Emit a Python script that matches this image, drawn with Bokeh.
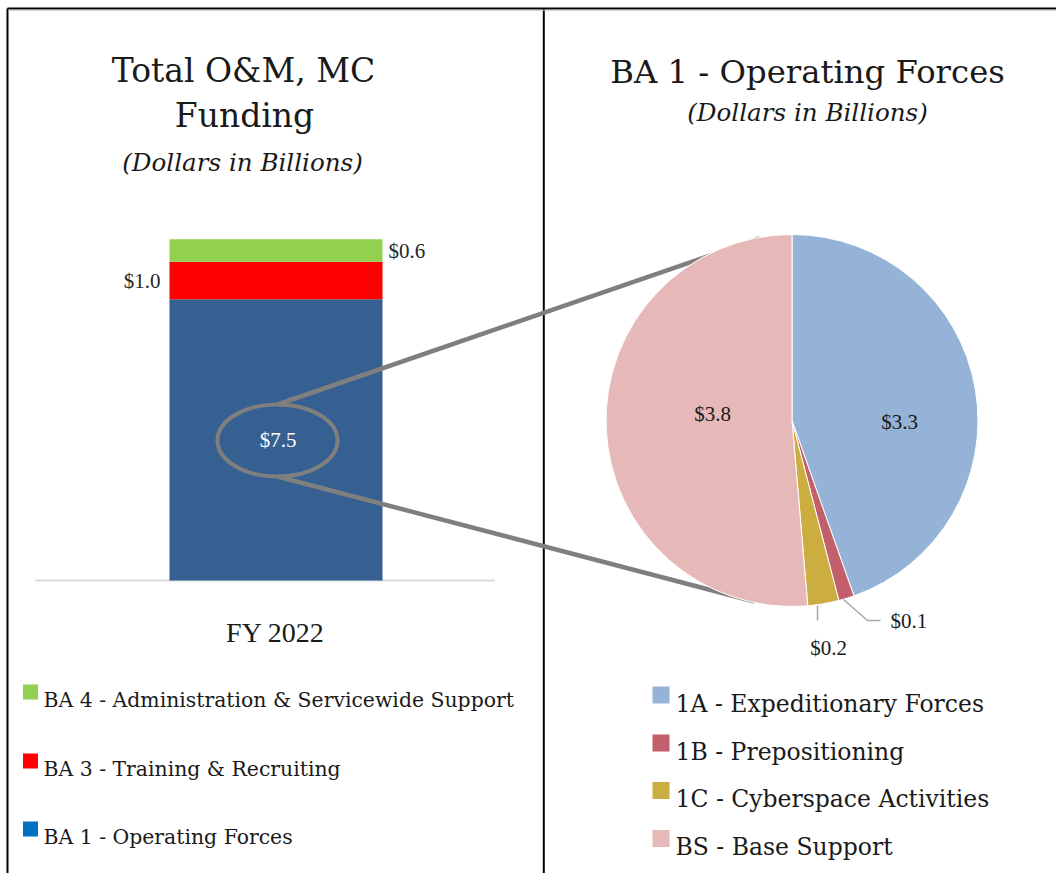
import numpy as np
from bokeh.plotting import figure
from bokeh.models import Range1d, ColumnDataSource
from bokeh.core.properties import value
from bokeh.embed import file_html
from bokeh.resources import INLINE

# ---------------- data ----------------
bar_category = "FY 2022"
bar_series = ["BA 1 - Operating Forces", "BA 3 - Training & Recruiting",
              "BA 4 - Administration & Servicewide Support"]
bar_values = [7.5, 1.0, 0.6]
bar_labels = ["$7.5", "$1.0", "$0.6"]
bar_colors = ["#376092", "#FF0000", "#92D050"]
legend_left_labels = ["BA 4 - Administration & Servicewide Support",
                      "BA 3 - Training & Recruiting",
                      "BA 1 - Operating Forces"]
legend_left_colors = ["#92D050", "#FF0000", "#0070C0"]

pie_categories = ["1A - Expeditionary Forces", "1B -  Prepositioning",
                  "1C - Cyberspace Activities", "BS - Base Support"]
pie_values = [3.3, 0.1, 0.2, 3.8]
pie_labels = ["$3.3", "$0.1", "$0.2", "$3.8"]
pie_colors = ["#95B3D7", "#C15F6C", "#CBAE3F", "#E6B9B8"]

left_title = ["Total O&M, MC", "Funding"]
right_title = "BA 1 - Operating Forces"
subtitle = "(Dollars in Billions)"

# ---------------- layout constants ----------------
SERIF = value("DejaVu Serif")
TIMES = value("Liberation Serif")
W, H = 1056, 873
BASE_PY = 580.0      # page y of bar baseline
PPU = 37.5           # pixels per billion

p = figure(width=W, height=H, x_range=Range1d(0, W), y_range=Range1d(-H, 0),
           output_backend="svg", toolbar_location=None, min_border=0,
           x_axis_location=None, y_axis_location=None)
p.grid.visible = False
p.outline_line_color = None
p.background_fill_color = "white"
p.border_fill_color = "white"
p.extra_y_ranges = {"bar": Range1d(start=(BASE_PY - H) / PPU, end=BASE_PY / PPU)}

# frame lines
p.segment(x0=[7, 7, 543.3], y0=[-8, -8, -8], x1=[W, 7, 543.3], y1=[-8, -H, -H],
          line_color="black", line_width=2)
p.segment(x0=[8], y0=[-9.8], x1=[W], y1=[-9.8], line_color="#C8C8C8", line_width=1)

# ---------------- stacked bar ----------------
tops = np.cumsum(bar_values)
bottoms = tops - np.array(bar_values)
mids = (tops + bottoms) / 2
bsrc = ColumnDataSource(dict(bottom=bottoms, top=tops, color=bar_colors))
p.segment(x0=[35], x1=[494], y0=[0], y1=[0], y_range_name="bar",
          line_color="#D9D9D9", line_width=2)
p.vbar(x=275.5, width=213, bottom="bottom", top="top", fill_color="color",
       line_color=None, source=bsrc, y_range_name="bar")

p.text(x=[277.5], y=[mids[0]], text=[bar_labels[0]], y_range_name="bar",
       text_font=TIMES, text_font_size="21px", text_color="white",
       text_align="center", text_baseline="middle")
p.text(x=[160], y=[mids[1]], text=[bar_labels[1]], y_range_name="bar",
       text_font=TIMES, text_font_size="21px", text_color="#262626",
       text_align="right", text_baseline="middle")
p.text(x=[388], y=[mids[2]], text=[bar_labels[2]], y_range_name="bar",
       text_font=TIMES, text_font_size="21px", text_color="#262626",
       text_align="left", text_baseline="middle")
p.text(x=[275], y=[-632], text=[bar_category], text_font=TIMES, text_font_size="28px",
       text_color="#1a1a1a", text_align="center", text_baseline="alphabetic")

# ellipse + connectors
p.ellipse(x=277, y=-440, width=120, height=72, fill_color=None,
          line_color="#7F7F7F", line_width=4)
p.segment(x0=[277, 277], y0=[-404, -476], x1=[759, 754], y1=[-238, -601],
          line_color="#7F7F7F", line_width=4.5)

# ---------------- pie ----------------
total = sum(pie_values)
cum = np.cumsum(pie_values) / total
cum0 = np.concatenate([[0], cum[:-1]])
psrc = ColumnDataSource(dict(start=np.pi / 2 - 2 * np.pi * cum0,
                             end=np.pi / 2 - 2 * np.pi * cum,
                             color=pie_colors))
p.wedge(x=791.5, y=-420, radius=186, start_angle="start", end_angle="end",
        direction="clock", fill_color="color", line_color="white", line_width=1,
        source=psrc)

# leader lines
p.line(x=[843, 867, 880], y=[-599, -620, -620], line_color="#A6A6A6", line_width=1.5)
p.line(x=[817, 817], y=[-605, -620], line_color="#A6A6A6", line_width=1.5)

p.text(x=[899, 890, 828, 712], y=[-421, -620, -647, -413], text=pie_labels,
       text_font=TIMES, text_font_size="21px", text_color="#1a1a1a",
       text_align=["center", "left", "center", "center"], text_baseline="alphabetic")

# ---------------- titles ----------------
p.text(x=[243, 244], y=[-70, -115], text=left_title, text_font=SERIF,
       text_font_size="33px", text_color="#1a1a1a", text_align="center",
       text_baseline="alphabetic")
p.text(x=[807], y=[-71], text=[right_title], text_font=SERIF,
       text_font_size="32.3px", text_color="#1a1a1a", text_align="center",
       text_baseline="alphabetic")
p.text(x=[242, 807], y=[-162, -112], text=[subtitle, subtitle], text_font=SERIF,
       text_font_size="24.6px", text_font_style="italic", text_color="#1a1a1a",
       text_align="center", text_baseline="alphabetic")

# ---------------- legends ----------------
ly_left = [691.5, 760.5, 828.5]
p.rect(x=[30] * 3, y=[-v for v in ly_left], width=15, height=15,
       fill_color=legend_left_colors, line_color=None)
p.text(x=[43] * 3, y=[-(v + 7.5) for v in ly_left], text=legend_left_labels,
       text_font=SERIF, text_font_size="20.4px", text_color="#1a1a1a",
       text_align="left", text_baseline="alphabetic")

ly_right = [694.5, 742.5, 790, 838]
p.rect(x=[660.5] * 4, y=[-v for v in ly_right], width=17, height=17,
       fill_color=pie_colors, line_color=None)
p.text(x=[675] * 4, y=[-(v + 8.5) for v in ly_right], text=pie_categories,
       text_font=SERIF, text_font_size="23.5px", text_color="#1a1a1a",
       text_align="left", text_baseline="alphabetic")

open("out.html", "w").write(file_html(p, INLINE))
